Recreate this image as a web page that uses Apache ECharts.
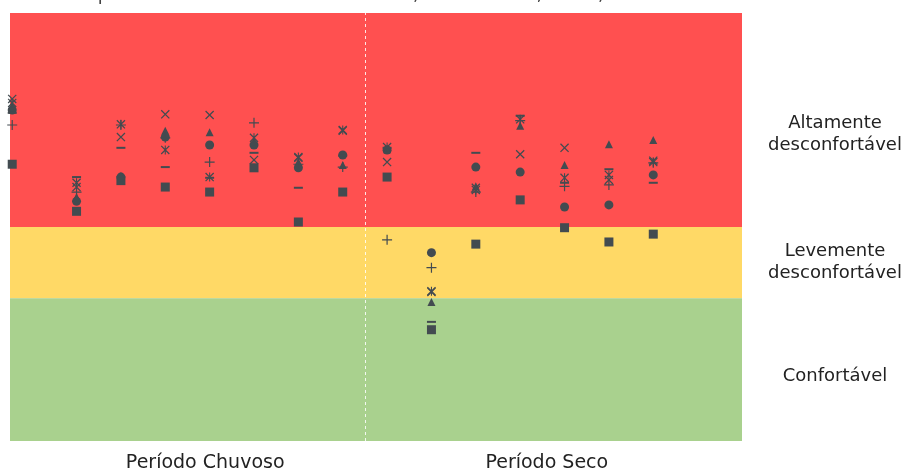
<!DOCTYPE html>
<html>
<head>
<meta charset="utf-8">
<script src="https://cdn.jsdelivr.net/npm/echarts@6/dist/echarts.min.js"></script>
<style>
  html, body { margin: 0; padding: 0; background: #fff; }
  #chart { width: 909px; height: 473px; }
</style>
</head>
<body>
<div id="chart"></div>
<script>
// posições das amostras (8 chuvoso + 7 seco)
const xPos = [0.05, 1.5, 2.5, 3.5, 4.5, 5.5, 6.5, 7.5, 8.5, 9.5, 10.5, 11.5, 12.5, 13.5, 14.5]
const periodLabels = ['Período Chuvoso', 'Período Seco']
const periodPos = [4.4, 12.1]
const splitAt = 8
const bandLabels = ['Altamente\ndesconfortável', 'Levemente\ndesconfortável', 'Confortável']
const bandLabelPos = [43, 25, 9]
const bandLimits = [0, 20, 30, 60]

const sQuadrado = [38.8, 32.2, 36.5, 35.6, 34.9, 38.3, 30.7, 34.9, 37.0, 15.6, 27.6, 33.8, 29.9, 27.9, 29.0]
const sCirculo = [46.4, 33.6, 37.0, 42.6, 41.5, 41.5, 38.3, 40.1, 40.8, 26.4, 38.4, 37.7, 32.8, 33.1, 37.3]
const sTriangulo = [47.0, 34.2, 37.2, 43.5, 43.3, 42.1, 39.1, 38.7, 40.9, 19.5, 35.7, 44.2, 38.7, 41.6, 42.2]
const sXis = [47.95, 35.6, 42.6, 45.8, 45.7, 39.4, 39.7, 43.5, 39.1, 20.9, 35.5, 40.2, 41.1, 36.6, 39.3]
const sEstrela = [47.4, 36.2, 44.4, 40.8, 37.0, 42.5, 39.8, 43.6, 41.2, 21.0, 35.2, 45.1, 36.9, 37.3, 39.1]
const sMais = [44.3, 34.9, 44.3, 42.5, 39.1, 44.6, 38.8, 38.4, 28.2, 24.3, 34.9, 44.9, 35.7, 35.9, 39.0]
const sTraco = [46.0, 37.0, 41.1, 38.4, 36.9, 40.4, 35.5, 40.0, 41.1, 16.7, 40.4, 45.6, 36.2, 38.1, 36.2]

const markColor = '#434b50'
const labelFont = 'DejaVu Sans'
const pathX = 'path://M0,1 L1,0 L10,9 L9,10 Z M9,0 L10,1 L1,10 L0,9 Z'
const pathStar = 'path://M0,1 L1,0 L10,9 L9,10 Z M9,0 L10,1 L1,10 L0,9 Z M4.4,0 L5.6,0 L5.6,10 L4.4,10 Z'
const pathPlus = 'path://M4.4,0 L5.6,0 L5.6,10 L4.4,10 Z M0,4.4 L10,4.4 L10,5.6 L0,5.6 Z'

const pts = vals => vals.map((v, i) => [xPos[i], v])

const mk = (name, data, symbol, size) => ({
    name,
    type: 'scatter',
    z: 3,
    data: pts(data),
    symbol,
    symbolSize: size,
    itemStyle: { color: markColor, opacity: 1 }
})

const chart = echarts.init(document.getElementById('chart'))
chart.setOption({
    animation: false,
    title: {
        text: 'o período chuvoso e seco em Cuiabá, Mato Grosso, Brasil, 2019',
        left: 76,
        top: -19,
        textStyle: { fontSize: 18, fontWeight: 'normal', color: '#444', fontFamily: labelFont }
    },
    grid: { left: 10, right: 167, top: 13, bottom: 32 },
    xAxis: {
        type: 'value',
        min: 0,
        max: 16.5,
        axisLine: { show: false },
        axisTick: { show: false },
        splitLine: { show: false },
        axisLabel: { show: false }
    },
    yAxis: {
        type: 'value',
        min: 0,
        max: 60,
        show: false
    },
    series: [
        {
            name: 'faixas',
            type: 'scatter',
            z: 1,
            data: [],
            silent: true,
            markArea: {
                silent: true,
                data: [
                    [{ yAxis: bandLimits[2], itemStyle: { color: '#ff5050', opacity: 1 } }, { yAxis: bandLimits[3] }],
                    [{ yAxis: bandLimits[1], itemStyle: { color: '#ffd966', opacity: 1 } }, { yAxis: bandLimits[2] }],
                    [{ yAxis: bandLimits[0], itemStyle: { color: '#a9d18e', opacity: 1 } }, { yAxis: bandLimits[1] }]
                ]
            },
            markLine: {
                silent: true,
                symbol: 'none',
                label: { show: false },
                lineStyle: { color: '#ffffff', type: [3, 3], width: 1, opacity: 0.85 },
                data: [{ xAxis: splitAt }]
            }
        },
        mk('Quadrado', sQuadrado, 'rect', 9),
        mk('Círculo', sCirculo, 'circle', 9),
        mk('Triângulo', sTriangulo, 'triangle', 8),
        mk('X', sXis, pathX, 9),
        mk('Estrela', sEstrela, pathStar, 9),
        mk('Mais', sMais, pathPlus, 10),
        mk('Traço', sTraco, 'rect', [9, 2])
    ]
})

// rótulos dos períodos (abaixo) e das faixas (à direita)
const graphic = []
periodLabels.forEach((t, i) => {
    const p = chart.convertToPixel({ gridIndex: 0 }, [periodPos[i], 0])
    graphic.push({
        type: 'text', x: p[0], y: p[1] + 22,
        style: { text: t, fontSize: 19, fill: '#222', fontFamily: labelFont, align: 'center', verticalAlign: 'middle' }
    })
})
bandLabels.forEach((t, i) => {
    const p = chart.convertToPixel({ gridIndex: 0 }, [16.5, bandLabelPos[i]])
    graphic.push({
        type: 'text', x: p[0] + 93, y: p[1],
        style: { text: t, fontSize: 18, lineHeight: 22, fill: '#222', fontFamily: labelFont, align: 'center', verticalAlign: 'middle' }
    })
})
chart.setOption({ graphic })
</script>
</body>
</html>
